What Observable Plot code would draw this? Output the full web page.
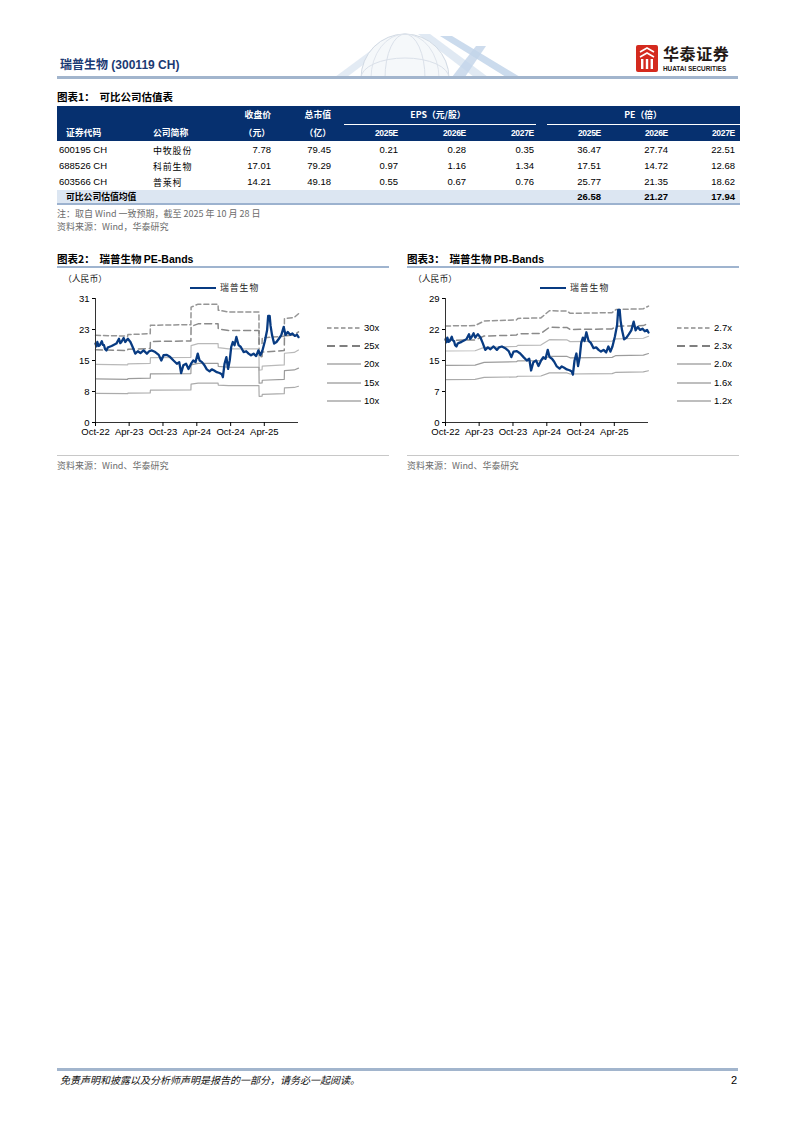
<!DOCTYPE html>
<html><head><meta charset="utf-8">
<script src="https://cdn.jsdelivr.net/npm/d3@7"></script>
<script src="https://cdn.jsdelivr.net/npm/@observablehq/plot@0.6"></script>
<style>
body{margin:0;background:#fff;}
#page{position:relative;width:793px;height:1122px;overflow:hidden;font-family:"Liberation Sans","Noto Sans CJK SC",sans-serif;color:#000;}
.cjk{font-family:"Noto Sans CJK SC",sans-serif;}
svg{display:block;}
</style></head><body><div id="page"></div>
<script>
// ---------- DATA ----------
const tableYears = ["2025E","2026E","2027E"];
const tableCodes = ["600195 CH","688526 CH","603566 CH"];
const tableNames = ["中牧股份","科前生物","普莱柯"];
const tableClose = ["7.78","17.01","14.21"];
const tableMktCap = ["79.45","79.29","49.18"];
const tableEps = [["0.21","0.28","0.35"],["0.97","1.16","1.34"],["0.55","0.67","0.76"]];
const tablePe = [["36.47","27.74","22.51"],["17.51","14.72","12.68"],["25.77","21.35","18.62"]];
const tablePeAvg = ["26.58","21.27","17.94"];

// 瑞普生物 closing price (RMB)
const price = [
["2022-10-01",19.6],["2022-10-06",18.9],["2022-10-11",20.0],["2022-10-18",19.0],["2022-10-24",19.2],
["2022-11-04",20.2],["2022-11-10",19.3],["2022-11-16",19.2],["2022-11-22",18.2],["2022-11-29",17.9],
["2022-12-06",18.6],["2022-12-13",18.75],["2022-12-27",19.0],["2023-01-09",19.3],["2023-01-22",19.6],
["2023-02-05",20.8],["2023-02-12",19.7],["2023-02-18",20.0],["2023-03-02",21.0],["2023-03-11",20.0],
["2023-03-18",20.4],["2023-03-25",20.8],["2023-04-08",20.0],["2023-04-20",18.75],["2023-05-04",17.1],
["2023-05-18",17.7],["2023-06-01",17.25],["2023-06-18",17.9],["2023-07-06",17.1],["2023-07-18",17.7],
["2023-08-02",17.9],["2023-08-20",17.5],["2023-09-08",16.8],["2023-09-22",15.4],["2023-10-04",16.7],
["2023-10-22",16.8],["2023-11-09",16.25],["2023-11-27",15.4],["2023-12-15",14.6],["2023-12-28",15.0],
["2024-01-07",12.25],["2024-01-19",14.2],["2024-02-03",14.6],["2024-02-16",13.3],["2024-03-01",14.6],
["2024-03-13",15.4],["2024-03-25",15.0],["2024-04-06",17.1],["2024-04-16",15.4],["2024-04-29",15.0],
["2024-05-11",14.3],["2024-05-25",13.2],["2024-06-09",12.7],["2024-06-21",13.2],["2024-07-04",12.9],
["2024-07-18",12.5],["2024-08-02",12.3],["2024-08-14",12.0],["2024-08-20",11.25],["2024-08-29",14.6],
["2024-09-08",16.25],["2024-09-17",13.3],["2024-09-26",15.4],["2024-10-04",18.75],["2024-10-13",20.0],
["2024-10-22",19.2],["2024-11-01",21.25],["2024-11-13",19.2],["2024-11-25",18.75],["2024-12-10",17.5],
["2024-12-24",17.7],["2025-01-06",17.1],["2025-01-19",16.7],["2025-02-02",17.1],["2025-02-16",16.5],
["2025-02-28",17.9],["2025-03-11",16.7],["2025-03-22",17.9],["2025-04-04",20.2],["2025-04-16",22.9],
["2025-04-22",26.5],["2025-04-30",26.5],["2025-05-05",24.0],["2025-05-13",21.7],["2025-05-24",19.6],
["2025-06-06",20.0],["2025-06-19",20.8],["2025-07-02",21.7],["2025-07-15",23.75],["2025-07-25",21.7],
["2025-08-06",22.5],["2025-08-19",21.8],["2025-08-31",22.1],["2025-09-13",21.5],["2025-09-25",21.8],
["2025-10-03",21.2]];

// trailing EPS behind the PE bands (RMB / share)
const peEps = [["2022-10-01",0.722],["2023-03-24",0.715],["2023-03-25",0.728],["2023-07-24",0.735],
["2023-07-25",0.805],["2024-02-29",0.81],["2024-03-01",0.955],["2024-04-08",0.98],["2024-07-25",0.98],
["2024-07-26",0.93],["2024-09-20",0.915],["2025-03-03",0.915],["2025-03-04",0.65],["2025-03-20",0.655],
["2025-03-21",0.70],["2025-07-18",0.715],["2025-07-19",0.86],["2025-09-10",0.87],["2025-10-03",0.90]];
const peMultiples = [30,25,20,15,10];
const peLabels = ["30x","25x","20x","15x","10x"];

// book value per share behind the PB bands
const pbBps = [["2022-10-01",8.42],["2023-03-10",8.45],["2023-04-28",8.85],["2023-10-20",8.95],
["2023-10-27",9.08],["2024-02-29",9.12],["2024-04-15",9.75],["2024-07-20",9.72],["2024-08-05",9.52],
["2025-03-20",9.58],["2025-04-10",9.85],["2025-09-05",9.92],["2025-10-03",10.15]];
const pbMultiples = [2.7,2.3,2.0,1.6,1.2];
const pbLabels = ["2.7x","2.3x","2.0x","1.6x","1.2x"];

const xTickDates = ["2022-10-01","2023-04-01","2023-10-01","2024-04-01","2024-10-01","2025-04-01"];
const xDomain = ["2022-10-01","2025-10-03"];
const peTickValues = [0,7.7,15.4,23.1,30.8];
const peTickLabels = ["0","8","15","23","31"];
const pbTickValues = [0,7.3,14.6,21.9,29.2];
const pbTickLabels = ["0","7","15","22","29"];

// ---------- STYLES ----------
const navy = "#06306f";
const lineBlue = "#083b82";
const bandStyles = [
  {stroke:"#959595", dash:"5,3", w:1.5},
  {stroke:"#8a8a8a", dash:"7,4", w:1.5},
  {stroke:"#b9b9b9", dash:null, w:1.2},
  {stroke:"#9c9c9c", dash:null, w:1.2},
  {stroke:"#ababab", dash:null, w:1.2}
];
const legendStyles = [
  {stroke:"#8c8c8c", dash:"4.5,2.5", w:1.6},
  {stroke:"#7f7f7f", dash:"8,4.5", w:1.9},
  {stroke:"#7f7f7f", dash:null, w:1.1},
  {stroke:"#7f7f7f", dash:null, w:1.1},
  {stroke:"#7f7f7f", dash:null, w:1.1}
];

const page = document.getElementById("page");
function el(tag, css, html){ const e=document.createElement(tag); e.style.cssText=css; if(html!==undefined) e.innerHTML=html; page.appendChild(e); return e; }
function txt(s, x, y, size, align, extra){
  let pos = align==="r" ? `right:${793-x}px;` : `left:${x}px;`;
  let tr = align==="c" ? "translate(-50%,-50%)" : "translateY(-50%)";
  return el("div", `position:absolute;white-space:nowrap;line-height:1;${pos}top:${y}px;transform:${tr};font-size:${size}px;${extra||""}`, s);
}
function hline(x1,x2,y,h,color){ return el("div",`position:absolute;left:${x1}px;top:${y}px;width:${x2-x1}px;height:${h}px;background:${color};`); }

// ---------- HEADER ----------
el("div","position:absolute;left:0;top:0;width:793px;height:80px;",
`<svg width="793" height="80">
 <defs><clipPath id="hc"><rect x="0" y="0" width="793" height="77"/></clipPath></defs>
 <g clip-path="url(#hc)" opacity="0.85">
  <polygon points="335,77 385,40 396,40 347,77" fill="#dfe8f3"/>
  <polygon points="372,77 425,38 436,38 384,77" fill="#cfdced"/>
  <polygon points="440,36 452,36 520,77 506,77" fill="#c3d5ea"/>
  <polygon points="418,34 430,34 488,77 474,77" fill="#dbe6f2"/>
  <circle cx="405" cy="78" r="44" fill="#f4f7fa" stroke="#c9d3df" stroke-width="1"/>
  <ellipse cx="405" cy="78" rx="20" ry="44" fill="none" stroke="#d4dce6"/>
  <ellipse cx="405" cy="78" rx="34" ry="44" fill="none" stroke="#d9e0e9"/>
  <ellipse cx="405" cy="78" rx="44" ry="20" fill="none" stroke="#d4dce6"/>
  <polygon points="452,77 476,46 486,46 465,77" fill="#b8cde6" opacity="0.8"/>
 </g>
 <g transform="translate(636,45)">
  <rect x="0" y="0" width="22" height="27" rx="2" fill="#d42a1e"/>
  <path d="M4 7 L11 3 L18 7 M4 12 L11 8 L18 12" stroke="#fff" stroke-width="1.6" fill="none"/>
  <rect x="5" y="14" width="2.4" height="10" fill="#fff"/><rect x="9.8" y="14" width="2.4" height="10" fill="#fff"/><rect x="14.6" y="14" width="2.4" height="10" fill="#fff"/>
 </g>
</svg>`);
txt("华泰证券", 663, 53, 16, "l", "font-family:'Noto Sans CJK SC';font-weight:700;color:#231815;letter-spacing:0.6px;");
txt("HUATAI SECURITIES", 663, 68.5, 6.4, "l", "font-weight:700;color:#231815;");
txt("<span class='cjk' style='font-weight:700'>瑞普生物</span> (300119 CH)", 60, 64, 12, "l", `font-weight:700;color:#1b3a73;`);
hline(57, 738, 76, 3, "#a2b5cd");

// ---------- TABLE ----------
txt("<span class='cjk'>图表1：&nbsp;&nbsp;可比公司估值表</span>", 57, 97, 10.5, "l", "font-weight:700;");
hline(57, 740, 106, 35, navy);
hline(344, 536, 123.5, 1, "#ffffff");
hline(547, 740, 123.5, 1, "#ffffff");
const hdr = "color:#fff;font-weight:700;font-family:'Noto Sans CJK SC';";
const rightEdges = [271, 331, 398, 466, 534, 601, 668, 735];
txt("收盘价", 271, 115, 8.8, "r", hdr);
txt("总市值", 331, 115, 8.8, "r", hdr);
txt("EPS（元/股）", 438, 115, 8.8, "c", hdr);
txt("PE（倍）", 643, 115, 8.8, "c", hdr);
txt("证券代码", 66, 133, 8.8, "l", hdr);
txt("公司简称", 153, 133, 8.8, "l", hdr);
txt("（元）", 270, 133, 8.8, "r", hdr);
txt("（亿）", 331, 133, 8.8, "r", hdr);
tableYears.forEach((yv,i)=>{
  txt(yv, rightEdges[2+i], 133, 8.5, "r", "color:#fff;font-weight:700;letter-spacing:-0.3px;");
  txt(yv, rightEdges[5+i], 133, 8.5, "r", "color:#fff;font-weight:700;letter-spacing:-0.3px;");
});
tableCodes.forEach((c,r)=>{
  const y = 149.5 + r*16;
  txt(c, 59, y, 9.5, "l");
  txt(tableNames[r], 153, y, 9, "l", "font-family:'Noto Sans CJK SC';letter-spacing:0.8px;");
  txt(tableClose[r], rightEdges[0], y, 9.5, "r");
  txt(tableMktCap[r], rightEdges[1], y, 9.5, "r");
  tableEps[r].forEach((v,i)=>txt(v, rightEdges[2+i], y, 9.5, "r"));
  tablePe[r].forEach((v,i)=>txt(v, rightEdges[5+i], y, 9.5, "r"));
});
hline(57, 740, 189.5, 13.5, "#dce6f2");
txt("可比公司估值均值", 66, 196.5, 8.8, "l", "font-weight:700;font-family:'Noto Sans CJK SC';");
tablePeAvg.forEach((v,i)=>txt(v, rightEdges[5+i], 196.5, 9.5, "r", "font-weight:700;"));
hline(57, 740, 203, 1.5, "#9cb2cf");
txt("注：取自 Wind 一致预期，截至 2025 年 10 月 28 日", 57, 212.5, 9, "l", "color:#6b6b6b;font-family:'Noto Sans CJK SC';");
txt("资料来源：Wind，华泰研究", 57, 226, 9, "l", "color:#6b6b6b;font-family:'Noto Sans CJK SC';");

// ---------- CHARTS ----------
const parse = s => new Date(s + "T00:00:00Z");
const priceData = price.map(([d,v])=>({date:parse(d), v}));
const fmtX = d3.utcFormat("%b-%y");

function bandChart({left, title, base, multiples, labels, yMax, tickValues, tickLabels}){
  txt(`<span class='cjk'>${title[0]}</span>${title[1]}`, left, 259, 10.5, "l", "font-weight:700;");
  hline(left, left+332, 266, 1.5, "#9fb4cf");
  txt("（人民币）", left+6, 279, 8.8, "l", "font-family:'Noto Sans CJK SC';color:#222;");
  const baseData = base.map(([d,v])=>({date:parse(d), v}));
  const marks = multiples.map((m,i)=>Plot.line(baseData, {
    x:"date", y: d=>d.v*m, stroke: bandStyles[i].stroke, strokeWidth: bandStyles[i].w,
    strokeDasharray: bandStyles[i].dash || undefined
  }));
  marks.push(Plot.line(priceData, {x:"date", y:"v", stroke: lineBlue, strokeWidth: 2.3}));
  marks.push(Plot.ruleY([0], {stroke:"#333", strokeWidth:1}));
  marks.push(Plot.ruleX([parse(xDomain[0])], {stroke:"#333", strokeWidth:1}));
  marks.push(Plot.axisX(xTickDates.map(parse), {tickFormat: fmtX, tickSize:4, tickPadding:2, label:null, fontSize:9.5}));
  marks.push(Plot.axisY(tickValues, {tickFormat: d=>tickLabels[tickValues.indexOf(d)], tickSize:3, tickPadding:3, label:null, fontSize:9.5}));
  const chart = Plot.plot({
    width: 243, height: 159, marginLeft: 38, marginRight: 2, marginTop: 15, marginBottom: 20,
    x: {type:"utc", domain: xDomain.map(parse)},
    y: {domain: [0, yMax]},
    style: {fontFamily:"'Liberation Sans', Arial, sans-serif", fontSize:"9.5px", color:"#000", background:"transparent", overflow:"visible"},
    marks
  });
  const holder = el("div", `position:absolute;left:${left}px;top:283px;`);
  holder.appendChild(chart);
  // series legend
  el("div", `position:absolute;left:${left+133}px;top:286.5px;width:26px;height:2px;background:${lineBlue};`);
  txt("瑞普生物", left+163, 287.5, 8.8, "l", "font-family:'Noto Sans CJK SC';color:#222;letter-spacing:1px;");
  // band legend
  labels.forEach((lab,i)=>{
    const y = 328 + i*18.2;
    const s = legendStyles[i];
    el("div", `position:absolute;left:${left+270}px;top:${y-3}px;width:34px;height:6px;line-height:0;`,
      `<svg width="34" height="6" style="display:block"><line x1="0" y1="3" x2="34" y2="3" stroke="${s.stroke}" stroke-width="${s.w}" ${s.dash?`stroke-dasharray="${s.dash}"`:""}/></svg>`);
    txt(lab, left+307, y, 9.5, "l");
  });
  hline(left, left+332, 455, 1, "#c8c8c8");
  txt("资料来源：Wind、华泰研究", left, 465, 9, "l", "color:#6b6b6b;font-family:'Noto Sans CJK SC';");
}

bandChart({left:57, title:["图表2：&nbsp;&nbsp;瑞普生物 ","PE-Bands"], base:peEps, multiples:peMultiples, labels:peLabels,
  yMax:30.8, tickValues:peTickValues, tickLabels:peTickLabels});
bandChart({left:407, title:["图表3：&nbsp;&nbsp;瑞普生物 ","PB-Bands"], base:pbBps, multiples:pbMultiples, labels:pbLabels,
  yMax:29.2, tickValues:pbTickValues, tickLabels:pbTickLabels});

// ---------- FOOTER ----------
hline(57, 738, 1068, 2.5, "#a2b5cd");
txt("免责声明和披露以及分析师声明是报告的一部分，请务必一起阅读。", 60, 1080, 10, "l", "font-family:'Noto Sans CJK SC';font-style:italic;color:#111;");
txt("2", 737, 1080, 11, "r");
</script></body></html>
